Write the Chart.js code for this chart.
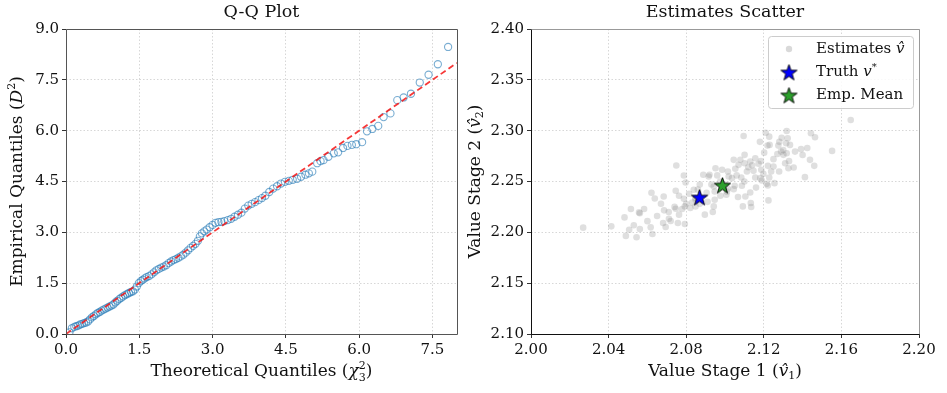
<!DOCTYPE html>
<html>
<head>
<meta charset="utf-8">
<script src="https://cdn.jsdelivr.net/npm/chart.js@4.4.0/dist/chart.umd.min.js"></script>
<style>
  body { margin: 0; background: #fff; width: 947px; height: 393px; overflow: hidden; position: relative; }
  #qqChart { position: absolute; left: 0; top: 0; }
  #estChart { position: absolute; left: 462px; top: 0; }
</style>
</head>
<body>
<canvas id="qqChart" width="462" height="393"></canvas>
<canvas id="estChart" width="485" height="393"></canvas>
<script>
// --- data ---
const qqTheoretical = [0.07,0.12,0.17,0.21,0.25,0.29,0.33,0.37,0.41,0.45,0.49,0.53,0.57,0.61,0.65,0.69,0.73,0.77,0.81,0.85,
  0.89,0.93,0.97,1.01,1.05,1.09,1.13,1.17,1.21,1.25,1.29,1.33,1.37,1.41,1.45,1.49,1.53,1.57,1.61,1.65,
  1.70,1.75,1.80,1.85,1.90,1.95,2.00,2.05,2.10,2.15,2.20,2.25,2.30,2.35,2.40,2.45,2.50,2.55,2.60,2.65,
  2.70,2.74,2.78,2.83,2.88,2.94,3.00,3.06,3.12,3.18,3.24,3.31,3.38,3.45,3.52,3.59,3.66,3.73,3.80,3.87,
  3.94,4.01,4.08,4.16,4.24,4.32,4.40,4.48,4.56,4.64,4.73,4.81,4.90,4.97,5.04,5.14,5.21,5.27,5.37,5.48,
  5.57,5.67,5.76,5.85,5.94,6.06,6.16,6.27,6.39,6.50,6.64,6.78,6.91,7.06,7.24,7.42,7.61,7.82];
const qqEmpirical = [0.05,0.17,0.21,0.23,0.25,0.28,0.30,0.32,0.34,0.37,0.43,0.49,0.53,0.58,0.62,0.65,0.69,0.72,0.75,0.78,
  0.81,0.84,0.87,0.93,0.98,1.03,1.07,1.11,1.15,1.18,1.21,1.24,1.26,1.31,1.40,1.50,1.56,1.60,1.64,1.68,
  1.71,1.76,1.82,1.88,1.92,1.96,1.99,2.03,2.09,2.14,2.18,2.21,2.25,2.29,2.34,2.40,2.47,2.54,2.60,2.66,
  2.75,2.88,2.97,3.03,3.08,3.15,3.22,3.28,3.30,3.31,3.33,3.36,3.40,3.46,3.52,3.58,3.70,3.79,3.84,3.89,
  3.95,4.01,4.08,4.19,4.29,4.36,4.44,4.49,4.52,4.55,4.58,4.64,4.70,4.74,4.79,5.04,5.10,5.13,5.23,5.33,
  5.36,5.49,5.55,5.58,5.60,5.66,5.98,6.05,6.14,6.40,6.51,6.90,6.98,7.09,7.42,7.65,7.96,8.47];
const refLine = [0, 8];
const qqXTicks = [0, 1.5, 3.0, 4.5, 6.0, 7.5];
const qqYTicks = [0, 1.5, 3.0, 4.5, 6.0, 7.5, 9.0];

const estStage1 = [2.0749,2.0788,2.0797,2.0621,2.0638,2.0684,2.0670,2.0746,2.0763,2.0788,2.0515,2.0583,2.0557,2.0482,2.0686,
  2.0746,2.0779,2.0793,2.0763,2.0711,2.0720,2.0681,2.0694,2.0757,2.0793,2.0269,2.0414,2.0506,2.0561,2.0617,
  2.0489,2.0544,2.0626,2.0821,2.0839,2.0848,2.0896,2.0888,2.1096,2.1210,2.1228,2.1318,2.1292,2.1323,2.1315,
  2.1335,2.1443,2.1464,2.1552,2.1219,2.1275,2.1289,2.1301,2.1318,2.1361,2.1392,2.1424,2.1202,2.1130,2.1156,
  2.1173,2.1101,2.1079,2.1045,2.1070,2.1101,2.1221,2.1250,2.1310,2.1327,2.1354,2.1438,2.1460,2.1412,2.0951,
  2.0985,2.1015,2.1053,2.1113,2.1147,2.1187,2.1198,2.1238,2.1279,2.1156,2.1182,2.1228,2.1084,2.1036,2.0916,
  2.1019,2.1050,2.1087,2.1045,2.1130,2.1105,2.1067,2.1215,2.1255,2.1221,2.0942,2.0947,2.1015,2.0976,2.0947,
  2.1007,2.1092,2.1135,2.1224,2.0937,2.0848,2.1648,2.1133,2.0561,2.0920,2.0831,2.0942,2.0848,2.0870,2.0910,
  2.0800,2.0815,2.0860,2.0905,2.0975,2.1000,2.1010,2.0930,2.0870,2.0960,2.1060,2.1120,2.1140,2.1185,2.1250,
  2.1270,2.1300,2.1190,2.1160,2.1100,2.0740,2.0710,2.0650,2.0600,2.0530,2.1330,2.1280,2.1230,2.1400,2.1180];
const estStage2 = [2.2657,2.2559,2.2490,2.2389,2.2333,2.2353,2.2281,2.2409,2.2360,2.2330,2.2229,2.2229,2.2196,2.2147,2.2216,
  2.2232,2.2229,2.2255,2.2174,2.2134,2.2112,2.2092,2.2053,2.2092,2.2082,2.2046,2.2059,2.2026,2.2033,2.2049,
  2.1965,2.1951,2.1984,2.2239,2.2419,2.2321,2.2174,2.2566,2.2948,2.2980,2.2941,2.2997,2.2931,2.2925,2.2876,
  2.2860,2.2975,2.2935,2.2801,2.2853,2.2853,2.2794,2.2762,2.2778,2.2794,2.2818,2.2830,2.2784,2.2696,2.2729,
  2.2674,2.2762,2.2713,2.2713,2.2664,2.2680,2.2654,2.2647,2.2680,2.2631,2.2637,2.2713,2.2654,2.2543,2.2631,
  2.2615,2.2598,2.2625,2.2598,2.2605,2.2615,2.2575,2.2598,2.2598,2.2539,2.2533,2.2539,2.2539,2.2533,2.2549,
  2.2549,2.2458,2.2458,2.2425,2.2392,2.2353,2.2347,2.2477,2.2484,2.2461,2.2451,2.2402,2.2428,2.2360,2.2321,
  2.2370,2.2255,2.2249,2.2314,2.2200,2.2255,2.3105,2.2289,2.2187,2.2566,2.2294,2.2255,2.2337,2.2280,2.2300,
  2.2280,2.2380,2.2420,2.2390,2.2500,2.2470,2.2400,2.2470,2.2470,2.2560,2.2560,2.2640,2.2660,2.2700,2.2720,
  2.2770,2.2810,2.2510,2.2440,2.2500,2.2250,2.2200,2.2160,2.2110,2.2070,2.2700,2.2890,2.2860,2.2760,2.2890];
const truthValue = [2.0869, 2.2347];
const empMean = [2.0987, 2.2465];
const estXTicks = [2.00, 2.04, 2.08, 2.12, 2.16, 2.20];
const estYTicks = [2.10, 2.15, 2.20, 2.25, 2.30, 2.35, 2.40];

// --- helpers ---
const SERIF = '"DejaVu Serif", serif';
const f = (size, style) => (style ? style + ' ' : '') + size + 'px ' + SERIF;
const TITLE = 17.5, LABEL = 17, TICK = 15;

function starImage(fill, r) {
  const c = document.createElement('canvas');
  const s = Math.ceil(2 * r + 4);
  c.width = c.height = s;
  const g = c.getContext('2d');
  g.beginPath();
  for (let i = 0; i < 10; i++) {
    const a = -Math.PI / 2 + i * Math.PI / 5;
    const rad = i % 2 ? r * 0.4 : r;
    const px = s / 2 + rad * Math.cos(a), py = s / 2 + 1 + rad * Math.sin(a);
    i ? g.lineTo(px, py) : g.moveTo(px, py);
  }
  g.closePath();
  g.fillStyle = fill;
  g.fill();
  g.lineWidth = 0.9;
  g.strokeStyle = '#000';
  g.stroke();
  return c;
}

// rich text: parts = [[text, font, dy, noAdvance]]
function drawRich(ctx, parts, x, y, rotate) {
  ctx.save();
  ctx.translate(x, y);
  if (rotate) ctx.rotate(-Math.PI / 2);
  ctx.textBaseline = 'middle';
  ctx.textAlign = 'left';
  ctx.fillStyle = '#111';
  let w = 0;
  parts.forEach(p => { ctx.font = p[1]; if (!p[3]) w += ctx.measureText(p[0]).width; });
  let cx = -w / 2;
  parts.forEach(p => {
    ctx.font = p[1];
    ctx.fillText(p[0], cx, p[2] || 0);
    if (!p[3]) cx += ctx.measureText(p[0]).width;
  });
  ctx.restore();
}

function axisOpts(ticksArr, digits, min, max, isY, size) {
  return {
    type: 'linear', min: min, max: max,
    afterBuildTicks: s => { s.ticks = ticksArr.map(v => ({ value: v })); },
    afterFit: s => { if (isY) s.width = size; else s.height = size; },
    ticks: { callback: v => Number(v).toFixed(digits), font: { family: '"DejaVu Serif"', size: TICK }, color: '#111', padding: 3, maxRotation: 0, autoSkip: false },
    grid: { color: 'rgba(0,0,0,0.2)', lineWidth: 0.8, tickColor: '#333', tickLength: 4, tickWidth: 1, tickBorderDash: [] },
    border: { display: false, dash: [1.5, 2] }
  };
}

// frame, title, axis titles
function decoPlugin(cfg) {
  return {
    id: 'deco',
    afterDraw(chart) {
      const ctx = chart.ctx, ca = chart.chartArea;
      ctx.save();
      ctx.lineWidth = 1;
      const sides = [
        [ca.left, ca.top, ca.right, ca.top, cfg.topColor],
        [ca.right, ca.top, ca.right, ca.bottom, cfg.topColor],
        [ca.left, ca.bottom, ca.right, ca.bottom, cfg.baseColor],
        [ca.left, ca.top, ca.left, ca.bottom, cfg.baseColor]
      ];
      sides.forEach(s => {
        ctx.strokeStyle = s[4];
        ctx.beginPath();
        ctx.moveTo(Math.round(s[0]) + 0.5, Math.round(s[1]) + 0.5);
        ctx.lineTo(Math.round(s[2]) + 0.5, Math.round(s[3]) + 0.5);
        ctx.stroke();
      });
      ctx.restore();
      const mid = (ca.left + ca.right) / 2;
      drawRich(ctx, [[cfg.title, f(TITLE)]], mid, 12);
      drawRich(ctx, cfg.xTitle, mid, 372);
      drawRich(ctx, cfg.yTitle, cfg.yTitleX, (ca.top + ca.bottom) / 2, true);
      if (cfg.legend) cfg.legend(ctx, ca);
    }
  };
}

// --- 1. Q-Q plot ---
new Chart(document.getElementById('qqChart'), {
  type: 'scatter',
  data: {
    datasets: [{
      type: 'line',
      data: refLine.map(v => ({ x: v, y: v })),
      borderColor: 'rgba(245,20,20,0.85)',
      borderWidth: 1.8,
      borderDash: [6, 3.5],
      pointRadius: 0,
      fill: false
    }, {
      data: qqTheoretical.map((v, i) => ({ x: v, y: qqEmpirical[i] })),
      pointRadius: 3.6,
      pointBorderWidth: 1.1,
      pointBackgroundColor: 'rgba(0,0,0,0)',
      pointBorderColor: 'rgba(31,119,180,0.6)'
    }]
  },
  options: {
    responsive: false, animation: false, events: [],
    layout: { padding: { left: 0, right: 5, top: 29, bottom: 0 } },
    plugins: { legend: { display: false }, tooltip: { enabled: false } },
    scales: {
      x: axisOpts(qqXTicks, 1, 0, 8, false, 59),
      y: axisOpts(qqYTicks, 1, 0, 9, true, 66)
    }
  },
  plugins: [decoPlugin({
    title: 'Q-Q Plot', topColor: '#555', baseColor: '#555', yTitleX: 18,
    xTitle: [['Theoretical Quantiles (', f(LABEL)], ['\u03C7', f(LABEL, 'italic')], ['2', f(11), -6, true], ['3', f(11), 6], [')', f(LABEL)]],
    yTitle: [['Empirical Quantiles (', f(LABEL)], ['D', f(LABEL, 'italic')], ['2', f(11), -6], [')', f(LABEL)]]
  })]
});

// --- 2. Estimates scatter ---
const blueStar = starImage('#0000ff', 8.5);
const greenStar = starImage('#2ca02c', 8.5);

function drawLegend(ctx, ca) {
  const x0 = ca.right - 151, y0 = ca.top + 7, w = 145, h = 72;
  ctx.save();
  ctx.fillStyle = 'rgba(255,255,255,0.85)';
  ctx.strokeStyle = '#ccc';
  ctx.lineWidth = 1;
  ctx.beginPath();
  ctx.roundRect(x0 + 0.5, y0 + 0.5, w, h, 3);
  ctx.fill();
  ctx.stroke();
  const mx = x0 + 21, tx = x0 + 48;
  ctx.fillStyle = 'rgba(128,128,128,0.3)';
  ctx.beginPath();
  ctx.arc(mx, y0 + 13, 3.2, 0, Math.PI * 2);
  ctx.fill();
  ctx.drawImage(blueStar, mx - blueStar.width / 2, y0 + 36 - blueStar.height / 2);
  ctx.drawImage(greenStar, mx - greenStar.width / 2, y0 + 59 - greenStar.height / 2);
  ctx.restore();
  const rows = [
    [['Estimates ', f(15)], ['v\u0302', f(15, 'italic')]],
    [['Truth ', f(15)], ['v', f(15, 'italic')], ['*', f(10), -5]],
    [['Emp. Mean', f(15)]]
  ];
  rows.forEach((parts, i) => {
    ctx.save();
    let w2 = 0;
    parts.forEach(p => { ctx.font = p[1]; w2 += ctx.measureText(p[0]).width; });
    ctx.restore();
    drawRich(ctx, parts, tx + w2 / 2, y0 + 13 + i * 23);
  });
}

new Chart(document.getElementById('estChart'), {
  type: 'scatter',
  data: {
    datasets: [{
      data: [{ x: empMean[0], y: empMean[1] }],
      pointStyle: greenStar, pointRadius: 8
    }, {
      data: [{ x: truthValue[0], y: truthValue[1] }],
      pointStyle: blueStar, pointRadius: 8
    }, {
      data: estStage1.map((v, i) => ({ x: v, y: estStage2[i] })),
      pointRadius: 3.3,
      pointBorderWidth: 0,
      pointBackgroundColor: 'rgba(128,128,128,0.25)',
      pointBorderColor: 'rgba(0,0,0,0)'
    }]
  },
  options: {
    responsive: false, animation: false, events: [],
    layout: { padding: { left: 0, right: 28, top: 29, bottom: 0 } },
    plugins: { legend: { display: false }, tooltip: { enabled: false } },
    scales: {
      x: axisOpts(estXTicks, 2, 2.0, 2.2, false, 59),
      y: axisOpts(estYTicks, 2, 2.1, 2.4, true, 69)
    }
  },
  plugins: [decoPlugin({
    title: 'Estimates Scatter', topColor: '#999', baseColor: '#111', yTitleX: 14,
    xTitle: [['Value Stage 1 (', f(LABEL)], ['v\u0302', f(LABEL, 'italic')], ['1', f(11), 4], [')', f(LABEL)]],
    yTitle: [['Value Stage 2 (', f(LABEL)], ['v\u0302', f(LABEL, 'italic')], ['2', f(11), 4], [')', f(LABEL)]],
    legend: drawLegend
  })]
});
</script>
</body>
</html>
